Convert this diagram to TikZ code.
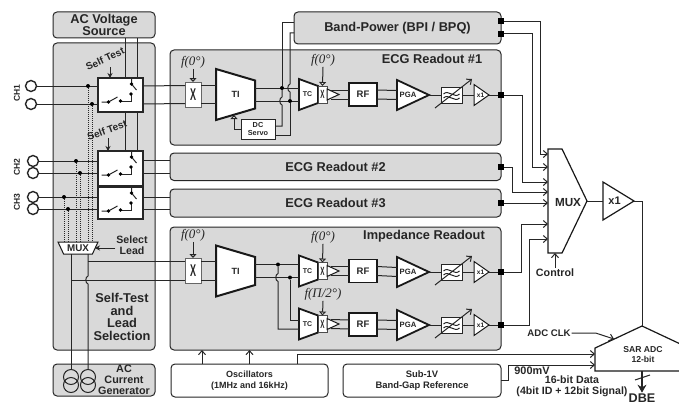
\documentclass[tikz,border=0pt]{standalone}
\usepackage{graphicx}
\usepackage{fontspec}
\setmainfont{Liberation Sans}
\newfontfamily\ffam{Liberation Serif}
\usetikzlibrary{arrows.meta,calc}
\newcommand{\xbar}{\scalebox{.9}[1.7]{X}}

\begin{document}
\begin{tikzpicture}[
  x=1pt, y=-1pt,
  every node/.style={outer sep=0pt, inner sep=1pt, align=center},
  fs/.style={font=\bfseries\fontsize{#1}{#1}\selectfont, text=black!85},
  sz/.style 2 args={minimum width=#1pt, minimum height=#2pt},
  panel/.style={draw=black!85, fill=black!15, rounded corners=4pt, line width=1pt},
  wbox/.style={panel, fill=white},
  wr/.style={line width=1pt, black!85},
  ar/.style={wr, -{Straight Barb[length=4pt,width=7pt]}},
  ahd/.style={wr, -{Stealth[length=5pt,width=5pt]}},
  hol/.style={wr, -{Triangle[open,fill=white,length=4pt,width=7pt]}},
  dotl/.style={line width=1pt, black!85, densely dotted},
  dotn/.style={circle, fill=black, inner sep=0pt, minimum size=4pt},
  sqn/.style={rectangle, fill=black, inner sep=0pt, minimum size=6pt},
  chp/.style={circle, draw=black!85, line width=1.4pt, inner sep=0pt, minimum size=11pt},
  coil/.style={circle, draw=black!85, line width=1pt, inner sep=0pt, minimum size=15pt},
  tria/.style={append after command={\pgfextra{\draw[fill=white, draw=black!90, line width=#1pt]
    (\tikzlastnode.north west) -- (\tikzlastnode.east) -- (\tikzlastnode.south west) -- cycle;}}},
  trap/.style={append after command={\pgfextra{\draw[fill=white, draw=black!90, line width=#1pt]
    (\tikzlastnode.north west) -- ($(\tikzlastnode.north east)!.225!(\tikzlastnode.south east)$)
    -- ($(\tikzlastnode.south east)!.225!(\tikzlastnode.north east)$) -- (\tikzlastnode.south west) -- cycle;}}},
  muxs/.style={append after command={\pgfextra{\draw[fill=white, draw=black!90, line width=1pt]
    (\tikzlastnode.north west) -- (\tikzlastnode.north east) -- ($(\tikzlastnode.south east)!.14!(\tikzlastnode.south west)$)
    -- ($(\tikzlastnode.south west)!.14!(\tikzlastnode.south east)$) -- cycle;}}},
  muxl/.style={append after command={\pgfextra{\draw[fill=white, draw=black!90, line width=1.2pt]
    (\tikzlastnode.north west) -- ($(\tikzlastnode.north west)!.36!(\tikzlastnode.north east)$) -- (\tikzlastnode.east)
    -- ($(\tikzlastnode.south west)!.36!(\tikzlastnode.south east)$) -- (\tikzlastnode.south west) -- cycle;}}},
  adcs/.style={append after command={\pgfextra{\draw[fill=white, draw=black!90, line width=1.2pt]
    (\tikzlastnode.north) -- ($(\tikzlastnode.north east)!.49!(\tikzlastnode.south east)$) -- (\tikzlastnode.south east)
    -- (\tikzlastnode.south west) -- ($(\tikzlastnode.north west)!.49!(\tikzlastnode.south west)$) -- cycle;}}},
  swbox/.style={sz={45}{#1},
    append after command={\pgfextra{
      \draw[draw=black!85, fill=white, line width=1.2pt] (\tikzlastnode.north west) rectangle (\tikzlastnode.south east);
      \begin{scope}[shift={(\tikzlastnode.north)}]
      \draw[wr] (11,0) -- (11,6) -- (16,12);
      \draw[wr] (10.5,16) -- (10.5,23) -- (0,23);
      \draw[wr] (-19,24) -- (-12,24) -- (-3,19);
      \fill[black] (11,6) circle (1.8pt) (10.5,16) circle (1.8pt) (0,23) circle (1.8pt) (-12,24) circle (1.8pt);
    \end{scope}}}},
  xbig/.style={draw=black!60, fill=white, line width=1pt, sz={16}{25}, fs=10},
  xsml/.style={draw=black!70, fill=white, line width=1pt, sz={9}{17}, fs=7},
  tib/.style={trap=2, sz={39}{51}, label={[fs=9]center:TI}},
  tcb/.style={trap=1.8, sz={19}{31}, label={[fs=7, xshift=-1pt]center:TC}},
  smtr/.style={tria=1, sz={12}{11}},
  rfb/.style={draw=black!90, fill=white, line width=1.4pt, sz={28}{23}, fs=9.5},
  pgab/.style={tria=1.8, sz={32}{30}, label={[fs=7.7, xshift=-5pt]center:PGA}},
  x1b/.style={tria=1, sz={15}{21}, label={[fs=6.5, xshift=-1pt]center:x1}},
  filtb/.style={sz={21}{16},
    append after command={\pgfextra{
      \draw[draw=black!85, fill=white, line width=1pt] (\tikzlastnode.north west) rectangle (\tikzlastnode.south east);
      \begin{scope}[shift={(\tikzlastnode.center)}]
      \draw[wr] (-8,-1) .. controls (-3,-6) and (3,4) .. (8,-1);
      \draw[wr] (-8,3) .. controls (-3,-2) and (3,8) .. (8,3);
      \draw[ar] (-16.5,13) -- (20.5,-16);
    \end{scope}}}},
  flab/.style={font=\ffam\itshape\fontsize{13}{13}\selectfont, text=black!85}
]
  \useasboundingbox (0,0) rectangle (679,404);

  %% panels and boxes
  \node[panel, sz={102}{26}, fs=12.8] (acv) at (104,25) {AC Voltage\\Source};
  \node[panel, sz={102}{307}] (stl) at (104,196.5) {};
  \node[panel, sz={102}{32}] (acc) at (104,380) {};
  \node[panel, sz={207}{32}, fs=12.8] (bp) at (397.5,28) {Band-Power (BPI / BPQ)};
  \node[panel, sz={331}{95}] (ecga) at (335.5,97.5) {};
  \node[panel, sz={331}{27.5}, fs=12.8] (ecgb) at (335.5,166.75) {ECG Readout \#2};
  \node[panel, sz={331}{28}, fs=12.8] (ecgc) at (335.5,203) {ECG Readout \#3};
  \node[panel, sz={331}{123}] (imp) at (335.5,288.5) {};
  \node[wbox, sz={157}{33}, fs=9] (osc) at (249.5,380.5) {Oscillators\\[2pt](1MHz and 16kHz)};
  \node[wbox, sz={158}{33}, fs=9.4] (sub) at (422,380.5) {Sub-1V\\[2pt]Band-Gap Reference};

  %% panel titles
  \node[fs=12.8] (ecgat) at (432,59) {ECG Readout \#1};
  \node[fs=12.8] (impt) at (424,236) {Impedance Readout};
  \node[fs=12.8] (stlt) at (122,317) {Self-Test\\and\\Lead\\Selection};
  \node[fs=10.8] (acct) at (124,380) {AC\\Current\\Generator};
  \node[fs=10.6] (sel) at (132,245) {Select\\Lead};

  %% input channels
  \node[fs=8.5, rotate=90] (cha) at (17,93) {CH1};
  \node[fs=8.5, rotate=90] (chb) at (17,167) {CH2};
  \node[fs=8.5, rotate=90] (chc) at (17,202) {CH3};
  \node[chp] (cha1) at (31,86) {};
  \node[chp] (cha2) at (31,104) {};
  \node[chp] (chb1) at (33,161) {};
  \node[chp] (chb2) at (33,173) {};
  \node[chp] (chc1) at (33,197) {};
  \node[chp] (chc2) at (33,209) {};

  %% switches
  \node[swbox=34] (swa) at (120.5,95) {};
  \node[swbox=35] (swb) at (120.5,168.5) {};
  \node[swbox=32] (swc) at (120.5,203) {};
  \draw[wr] (cha1.east) -- (cha1 -| swa.west);
  \draw[wr] (cha2.east) -- (cha2 -| swa.west);
  \draw[wr] (chb1.east) -- (chb1 -| swb.west);
  \draw[wr] (chb2.east) -- (chb2 -| swb.west);
  \draw[wr] (chc1.east) -- (chc1 -| swc.west);
  \draw[wr] (chc2.east) -- (chc2 -| swc.west);

  %% AC source rails
  \draw[wr] ([xshift=4.5pt]swa.north) -- ([xshift=4.5pt]swa.north |- acv.south);
  \draw[wr] ([xshift=16.5pt]swa.north) -- ([xshift=16.5pt]swa.north |- acv.south);
  \draw[wr] ([xshift=4.5pt]swa.south) -- ([xshift=4.5pt]swb.north);
  \draw[wr] ([xshift=16.5pt]swa.south) -- ([xshift=16.5pt]swb.north);

  %% self test
  \node[fs=10, rotate=25] (sta) at (105,59) {Self Test};
  \node[fs=10, rotate=20] (stb) at (107,130) {Self Test};
  \coordinate (staf) at (110,67);
  \coordinate (stbf) at (108,138);
  \draw[ahd] (staf) -- (staf |- swa.north);
  \draw[ahd] (stbf) -- (stbf |- swb.north);

  %% lead select mux
  \node[muxs, sz={40}{12}, label={[fs=9.8]center:MUX}] (mxs) at (78,248) {};
  \node[dotn] (dta1) at (88,86) {};
  \node[dotn] (dta2) at (92,104) {};
  \node[dotn] (dtb1) at (76,161) {};
  \node[dotn] (dtb2) at (80,173) {};
  \node[dotn] (dtc1) at (64,197) {};
  \node[dotn] (dtc2) at (68,209) {};
  \draw[dotl] (dta1) -- (dta1 |- mxs.north);
  \draw[dotl] (dta2) -- (dta2 |- mxs.north);
  \draw[dotl] (dtb1) -- (dtb1 |- mxs.north);
  \draw[dotl] (dtb2) -- (dtb2 |- mxs.north);
  \draw[dotl] (dtc1) -- (dtc1 |- mxs.north);
  \draw[dotl] (dtc2) -- (dtc2 |- mxs.north);
  \draw[ahd] (sel.west |- mxs.east) -- ([xshift=-3pt]mxs.east);

  %% current generator coils
  \node[coil] (coa1) at (71,377) {};
  \node[coil] (coa2) at (71,385) {};
  \node[coil] (cob1) at (88,377) {};
  \node[coil] (cob2) at (88,385) {};

  %% ECG readout 1
  \node[xbig] (xa) at (193,94.5) {\xbar};
  \node[tib] (tia) at (235.5,94.5) {};
  \node[tcb] (tca) at (308.5,94.5) {};
  \node[xsml] (xsa) at (322.5,94.5) {\xbar};
  \node[smtr] (tra) at (333,94.5) {};
  \node[rfb] (rfa) at (363,94.5) {RF};
  \node[pgab] (pgaa) at (413,95) {};
  \node[filtb] (fia) at (451.5,95) {};
  \node[x1b] (bua) at (481.5,95) {};
  \node[sqn] (sqa) at (501,95) {};
  \node[draw=black!85, fill=white, line width=1pt, sz={34}{20}, fs=7.3] (dcs) at (258,129) {DC\\[1pt]Servo};
  \node[flab] (fa) at (193,62) {f(0°)};
  \node[flab] (fb) at (323,60) {f(0°)};
  \draw[hol] (fa.south) -- (xa.north);
  \draw[hol] (fb.south) -- (xsa.north);
  \draw[wr] ([yshift=9pt]swa.east) -- ([yshift=9pt]xa.west);
  \draw[wr] ([yshift=-9pt]swa.east) -- ([yshift=-9pt]xa.west);
  \draw[wr] ([yshift=9pt]xa.east) -- ([yshift=9pt]tia.west);
  \draw[wr] ([yshift=-9pt]xa.east) -- ([yshift=-9pt]tia.west);
  \draw[wr] ([yshift=6.5pt]tia.east) -- ([yshift=6.5pt]tca.west);
  \draw[wr] ([yshift=-6.5pt]tia.east) -- ([yshift=-6.5pt]tca.west);
  \draw[wr] ([xshift=-8pt,yshift=4.5pt]tra.east) -- ([yshift=4.5pt]rfa.west);
  \draw[wr] ([xshift=-8pt,yshift=-4.5pt]tra.east) -- ([yshift=-4.5pt]rfa.west);
  \draw[wr] ([yshift=4.5pt]rfa.east) -- ([yshift=4.5pt]pgaa.west);
  \draw[wr] ([yshift=-4.5pt]rfa.east) -- ([yshift=-4.5pt]pgaa.west);
  \draw[wr] (pgaa.east) -- (fia.west);
  \draw[wr] (fia.east) -- (bua.west);
  \draw[wr] (bua.east) -- (sqa.west);

  %% DC servo and band power taps
  \coordinate (tifb) at (234,115);
  \node[dotn] (dsa) at (282,88) {};
  \node[dotn] (dsb) at (290,101) {};
  \coordinate (jpa) at (282,101);
  \coordinate (jpb) at (290,88);
  \draw[hol] (dcs.west) -| (tifb);
  \draw[wr] ([yshift=3pt]dcs.east) -| ([yshift=-4pt]jpa) to[bend left=70] ([yshift=4pt]jpa) -- (dsa);
  \draw[wr] (dsa) |- ([yshift=5pt]bp.west);
  \draw[wr] ([yshift=-6pt]dcs.east) -| (dsb);
  \draw[wr] (dsb) -- ([yshift=-4pt]jpb) to[bend left=70] ([yshift=4pt]jpb) |- ([yshift=-5pt]bp.west);

  %% impedance readout
  \node[xbig] (xd) at (193,270.5) {\xbar};
  \node[tib] (tid) at (235.5,271) {};
  \node[tcb] (tcd) at (308.5,271) {};
  \node[xsml] (xsd) at (322.5,271) {\xbar};
  \node[smtr] (trd) at (333,271) {};
  \node[rfb] (rfd) at (363,271) {RF};
  \node[pgab] (pgad) at (413,272) {};
  \node[filtb] (fid) at (451.5,272) {};
  \node[x1b] (bud) at (481.5,272) {};
  \node[sqn] (sqd) at (501,272) {};
  \node[tcb] (tce) at (308.5,324) {};
  \node[xsml] (xse) at (322.5,324) {\xbar};
  \node[smtr] (tre) at (333,324) {};
  \node[rfb] (rfe) at (363,324.5) {RF};
  \node[pgab] (pgae) at (413,325) {};
  \node[filtb] (fie) at (451.5,325) {};
  \node[x1b] (bue) at (481.5,325) {};
  \node[sqn] (sqe) at (501,325) {};
  \node[flab] (fd) at (193,235) {f(0°)};
  \node[flab] (fe) at (323,237) {f(0°)};
  \node[flab] (ff) at (323,294) {f(Π/2°)};
  \draw[hol] (fd.south) -- (xd.north);
  \draw[hol] (fe.south) -- (xsd.north);
  \draw[hol] (ff.south) -- (xse.north);
  \draw[wr] ([yshift=9.5pt]xd.east) -- ([yshift=9.5pt]xd.east -| tid.west);
  \draw[wr] ([yshift=-9.5pt]xd.east) -- ([yshift=-9.5pt]xd.east -| tid.west);
  \draw[wr] ([yshift=6.5pt]tid.east) -- ([yshift=6.5pt]tcd.west);
  \draw[wr] ([yshift=-6.5pt]tid.east) -- ([yshift=-6.5pt]tcd.west);
  \draw[wr] ([xshift=-8pt,yshift=4.5pt]trd.east) -- ([yshift=4.5pt]rfd.west);
  \draw[wr] ([xshift=-8pt,yshift=-4.5pt]trd.east) -- ([yshift=-4.5pt]rfd.west);
  \draw[wr] ([yshift=4.5pt]rfd.east) -- ([yshift=4.5pt]pgad.west);
  \draw[wr] ([yshift=-4.5pt]rfd.east) -- ([yshift=-4.5pt]pgad.west);
  \draw[wr] (pgad.east) -- (fid.west);
  \draw[wr] (fid.east) -- (bud.west);
  \draw[wr] (bud.east) -- (sqd.west);
  \draw[wr] ([xshift=-8pt,yshift=4.5pt]tre.east) -- ([yshift=4.5pt]rfe.west);
  \draw[wr] ([xshift=-8pt,yshift=-4.5pt]tre.east) -- ([yshift=-4.5pt]rfe.west);
  \draw[wr] ([yshift=4.5pt]rfe.east) -- ([yshift=4.5pt]pgae.west);
  \draw[wr] ([yshift=-4.5pt]rfe.east) -- ([yshift=-4.5pt]pgae.west);
  \draw[wr] (pgae.east) -- (fie.west);
  \draw[wr] (fie.east) -- (bue.west);
  \draw[wr] (bue.east) -- (sqe.west);

  %% second impedance path
  \node[dotn] (dsc) at (278,264.5) {};
  \node[dotn] (dsd) at (290,277.5) {};
  \coordinate (jpd) at (278,277.5);
  \draw[wr] (dsc) -- ([yshift=4pt]jpd) to[bend right=70] ([yshift=-4pt]jpd) |- ([yshift=-5pt]tce.west);
  \draw[wr] (dsd) |- ([yshift=3.5pt]tce.west);

  %% lead mux to impedance and coils
  \coordinate (jpe) at (88,280);
  \coordinate (jpf) at (71,280);
  \draw[wr] ([xshift=-7pt]mxs.south) -- (coa1.north);
  \draw[wr] ([xshift=10pt]mxs.south) -- ([yshift=4pt]jpe) to[bend right=70] ([yshift=-4pt]jpe) -- (cob1.north);
  \draw[wr] ([xshift=10pt,yshift=-7pt]mxs.south) -- ([yshift=9.5pt]xd.west);
  \draw[wr] (jpf) -- ([yshift=-9.5pt]xd.west);

  %% switch 2 and 3 outputs
  \draw[wr] ([yshift=8.5pt]swb.east) -- ([yshift=8.5pt]swb.east -| ecgb.west);
  \draw[wr] ([yshift=-4.5pt]swb.east) -- ([yshift=-4.5pt]swb.east -| ecgb.west);
  \draw[wr] ([yshift=6pt]swc.east) -- ([yshift=6pt]swc.east -| ecgc.west);
  \draw[wr] ([yshift=-6pt]swc.east) -- ([yshift=-6pt]swc.east -| ecgc.west);

  %% output terminals
  \node[sqn] (sqp) at (501,21.5) {};
  \node[sqn] (sqq) at (501,34) {};
  \node[sqn] (sqb) at (501,167) {};
  \node[sqn] (sqc) at (501,203) {};

  %% analog mux, buffer, ADC
  \node[muxl, sz={39}{104}] (mxb) at (567.5,201) {};
  \node[fs=11.7] (mxbt) at (568,203) {MUX};
  \node[tria=1.2, sz={31}{38}, label={[fs=11, xshift=-4pt]center:x1}] (amx) at (618.5,201) {};
  \node[adcs, sz={94}{45}] (adc) at (642,348.5) {};
  \node[fs=8.6] (adct) at (643,354.5) {SAR ADC\\[2pt]12-bit};
  \node[fs=10.7] (ctl) at (555,273) {Control};
  \node[fs=9.6] (clk) at (549,333) {ADC CLK};
  \node[fs=10.9] (mvt) at (532,371) {900mV};
  \node[fs=10.6] (dat) at (572,386.5) {16-bit Data\\(4bit ID + 12bit Signal)};
  \node[fs=12.6] (dbe) at (642,398) {DBE};
  \coordinate (mia) at (548,154);
  \coordinate (mib) at (548,167);
  \coordinate (mic) at (548,182);
  \coordinate (mid) at (548,192);
  \coordinate (mie) at (548,203);
  \coordinate (mif) at (548,224);
  \coordinate (mig) at (548,239);
  \coordinate (clkp) at (614,339);
  \draw[ar] (sqp.east) -| ([xshift=-8pt]mia) -- (mia);
  \draw[ar] (sqq.east) -| ([xshift=-16pt]mib) -- (mib);
  \draw[ar] (sqa.east) -| ([xshift=-26pt]mic) -- (mic);
  \draw[ar] (sqb.east) -| ([xshift=-36pt]mid) -- (mid);
  \draw[ar] (sqc.east) -- (mie);
  \draw[ar] (sqd.east) -| ([xshift=-27pt]mif) -- (mif);
  \draw[ar] (sqe.east) -| ([xshift=-19pt]mig) -- (mig);
  \draw[ar] (ctl.north) -- ([xshift=-12.5pt]mxb.south);
  \draw[wr] (mxb.east) -- (amx.west);
  \draw[wr] (amx.east) -| (adc.north);
  \draw[ar] (clk.east) -- ++(24,0) -- (clkp);

  %% oscillator and reference outputs
  \draw[ar] ([xshift=-47.5pt]osc.north) -- ([xshift=-47.5pt]osc.north |- imp.south);
  \draw[ar] (osc.north) -- (osc.north |- imp.south);
  \draw[ar] ([xshift=47.5pt]osc.north) |- ([yshift=-5.5pt]adc.west);
  \draw[ar] (sub.east) -- ++(7,0) |- ([yshift=-16.5pt]adc.west);

  %% data out
  \draw[line width=1.2pt, black!85, -{Stealth[length=8pt,width=9pt]}] (adc.south) -- (dbe.north);
  \draw[wr] ([xshift=-7pt,yshift=-9pt]adc.south) -- ([xshift=8pt,yshift=-4pt]adc.south);
\end{tikzpicture}
\end{document}
